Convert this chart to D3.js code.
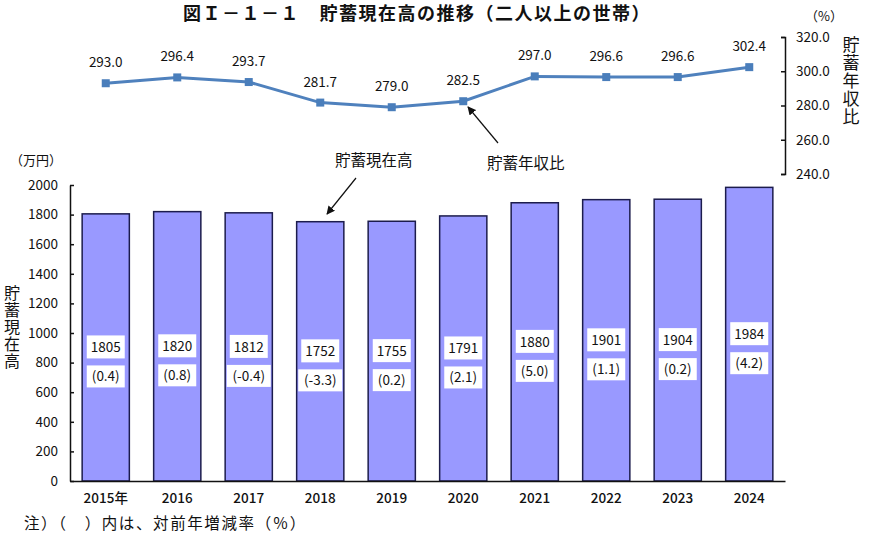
<!DOCTYPE html>
<html>
<head>
<meta charset="utf-8">
<script src="https://cdn.jsdelivr.net/npm/d3@7"></script>
<style>
  body { margin: 0; background: #fff; }
  svg text { font-family: "Noto Sans CJK JP", "Liberation Sans", sans-serif; fill: #111; }
</style>
</head>
<body>
<div id="chart"></div>
<script>
var vWidth = 870;
var vHeight = 543;

// data
var years = ["2015年", "2016", "2017", "2018", "2019", "2020", "2021", "2022", "2023", "2024"];
var savings = [1805, 1820, 1812, 1752, 1755, 1791, 1880, 1901, 1904, 1984];
var changes = ["(0.4)", "(0.8)", "(-0.4)", "(-3.3)", "(0.2)", "(2.1)", "(5.0)", "(1.1)", "(0.2)", "(4.2)"];
var ratio = [293.0, 296.4, 293.7, 281.7, 279.0, 282.5, 297.0, 296.6, 296.6, 302.4];
var barTicks = [0, 200, 400, 600, 800, 1000, 1200, 1400, 1600, 1800, 2000];
var ratioTicks = [240, 260, 280, 300, 320];

var svg = d3.select("#chart")
    .append("svg")
    .attr("width", vWidth)
    .attr("height", vHeight);

// scales
var x = d3.scaleBand().domain(years).range([70, 785]).paddingInner(0.34).paddingOuter(0.17);
var yBar = d3.scaleLinear().domain([0, 2000]).range([481, 185]);
var yRatio = d3.scaleLinear().domain([240, 320]).range([174, 37]);

var defs = svg.append("defs");
defs.append("marker")
    .attr("id", "arrow")
    .attr("viewBox", "0 0 10 10")
    .attr("refX", 9).attr("refY", 5)
    .attr("markerWidth", 7).attr("markerHeight", 7)
    .attr("orient", "auto")
    .append("path")
    .attr("d", "M0,0 L10,5 L0,10 z")
    .attr("fill", "#111");

// title
svg.append("text")
    .attr("x", 417).attr("y", 20)
    .attr("text-anchor", "middle")
    .attr("font-size", 18)
    .attr("font-weight", "bold")
    .attr("letter-spacing", 1.5)
    .text("図Ｉ－１－１　貯蓄現在高の推移（二人以上の世帯）");

// bars
var bars = svg.append("g");
bars.selectAll("rect")
    .data(savings)
    .enter().append("rect")
    .attr("x", (d, i) => x(years[i]))
    .attr("y", d => yBar(d))
    .attr("width", x.bandwidth())
    .attr("height", d => yBar(0) - yBar(d))
    .attr("fill", "#9999ff")
    .attr("stroke", "#1c1c4c")
    .attr("stroke-width", 1.5);

// left axis
var leftAxis = svg.append("g")
    .attr("transform", "translate(70,0)")
    .call(d3.axisLeft(yBar).tickValues(barTicks).tickFormat(d3.format("d"))
        .tickSizeInner(-4).tickSizeOuter(0).tickPadding(12));
leftAxis.select(".domain").attr("stroke", "#111").attr("stroke-width", 1.5);
leftAxis.selectAll(".tick line").attr("stroke", "#111").attr("stroke-width", 1.5);
leftAxis.selectAll("text").attr("font-size", 13.5).attr("font-family", "Liberation Sans, sans-serif");

// bottom axis
var bottomAxis = svg.append("g")
    .attr("transform", "translate(0,481)")
    .call(d3.axisBottom(x).tickSize(0).tickPadding(12));
bottomAxis.select(".domain").attr("stroke", "#111").attr("stroke-width", 1.5);
bottomAxis.selectAll("text").attr("font-size", 13.5).attr("font-weight", 500);

// value boxes inside bars
var labels = svg.append("g");
savings.forEach(function (v, i) {
    var cx = x(years[i]) + x.bandwidth() / 2;
    var cy = yBar(v / 2);
    labels.append("rect")
        .attr("x", cx - 19).attr("y", cy - 12)
        .attr("width", 38).attr("height", 23)
        .attr("fill", "#fff");
    labels.append("text")
        .attr("x", cx).attr("y", cy + 5)
        .attr("text-anchor", "middle")
        .attr("font-size", 13.5)
        .text(v);
    var w = changes[i].length > 5 ? 44 : 38;
    labels.append("rect")
        .attr("x", cx - w / 2).attr("y", cy + 18)
        .attr("width", w).attr("height", 22)
        .attr("fill", "#fff");
    labels.append("text")
        .attr("x", cx).attr("y", cy + 34)
        .attr("text-anchor", "middle")
        .attr("font-size", 13.5)
        .text(changes[i]);
});

// ratio line
var line = d3.line()
    .x((d, i) => x(years[i]) + x.bandwidth() / 2)
    .y(d => yRatio(d));

svg.append("path")
    .datum(ratio)
    .attr("d", line)
    .attr("fill", "none")
    .attr("stroke", "#4f81bd")
    .attr("stroke-width", 3);

svg.append("g").selectAll("rect")
    .data(ratio)
    .enter().append("rect")
    .attr("x", (d, i) => x(years[i]) + x.bandwidth() / 2 - 4)
    .attr("y", d => yRatio(d) - 4)
    .attr("width", 8).attr("height", 8)
    .attr("fill", "#4a7ebb");

svg.append("g").selectAll("text")
    .data(ratio)
    .enter().append("text")
    .attr("x", (d, i) => x(years[i]) + x.bandwidth() / 2)
    .attr("y", d => yRatio(d) - 16)
    .attr("text-anchor", "middle")
    .attr("font-size", 13.5)
    .attr("font-family", "Liberation Sans, sans-serif")
    .text(d => d.toFixed(1));

// right axis
var rightAxis = svg.append("g")
    .attr("transform", "translate(785,0)")
    .call(d3.axisRight(yRatio).tickValues(ratioTicks).tickSizeInner(-4).tickSizeOuter(-4).tickPadding(11)
        .tickFormat(d3.format(".1f")));
rightAxis.select(".domain").attr("stroke", "#111").attr("stroke-width", 1.5);
rightAxis.selectAll(".tick line").attr("stroke", "#111").attr("stroke-width", 1.5);
rightAxis.selectAll("text").attr("font-size", 13.5).attr("font-family", "Liberation Sans, sans-serif");

// axis units and titles
svg.append("text").attr("x", 805).attr("y", 21).attr("font-size", 13).text("（%）");
svg.append("text").attr("x", 10).attr("y", 165).attr("font-size", 13).text("（万円）");

function verticalTitle(str, cx, top, size) {
    svg.append("text")
        .attr("x", cx).attr("y", top)
        .attr("writing-mode", "vertical-rl")
        .attr("font-size", size)
        .attr("letter-spacing", 1)
        .text(str);
}
verticalTitle("貯蓄年収比", 851, 36, 17);
verticalTitle("貯蓄現在高", 12, 285, 16);

// annotations
svg.append("text").attr("x", 335).attr("y", 166).attr("font-size", 15.5).text("貯蓄現在高");
svg.append("line")
    .attr("x1", 356).attr("y1", 178).attr("x2", 327).attr("y2", 214)
    .attr("stroke", "#111").attr("stroke-width", 1.2)
    .attr("marker-end", "url(#arrow)");

svg.append("text").attr("x", 487).attr("y", 169).attr("font-size", 15.5).text("貯蓄年収比");
svg.append("line")
    .attr("x1", 498).attr("y1", 143).attr("x2", 468).attr("y2", 107)
    .attr("stroke", "#111").attr("stroke-width", 1.2)
    .attr("marker-end", "url(#arrow)");

// note
svg.append("text").attr("x", 24).attr("y", 529).attr("font-size", 15.5)
    .attr("letter-spacing", 1.6)
    .text("注）（　）内は、対前年増減率（％）");
</script>
</body>
</html>
